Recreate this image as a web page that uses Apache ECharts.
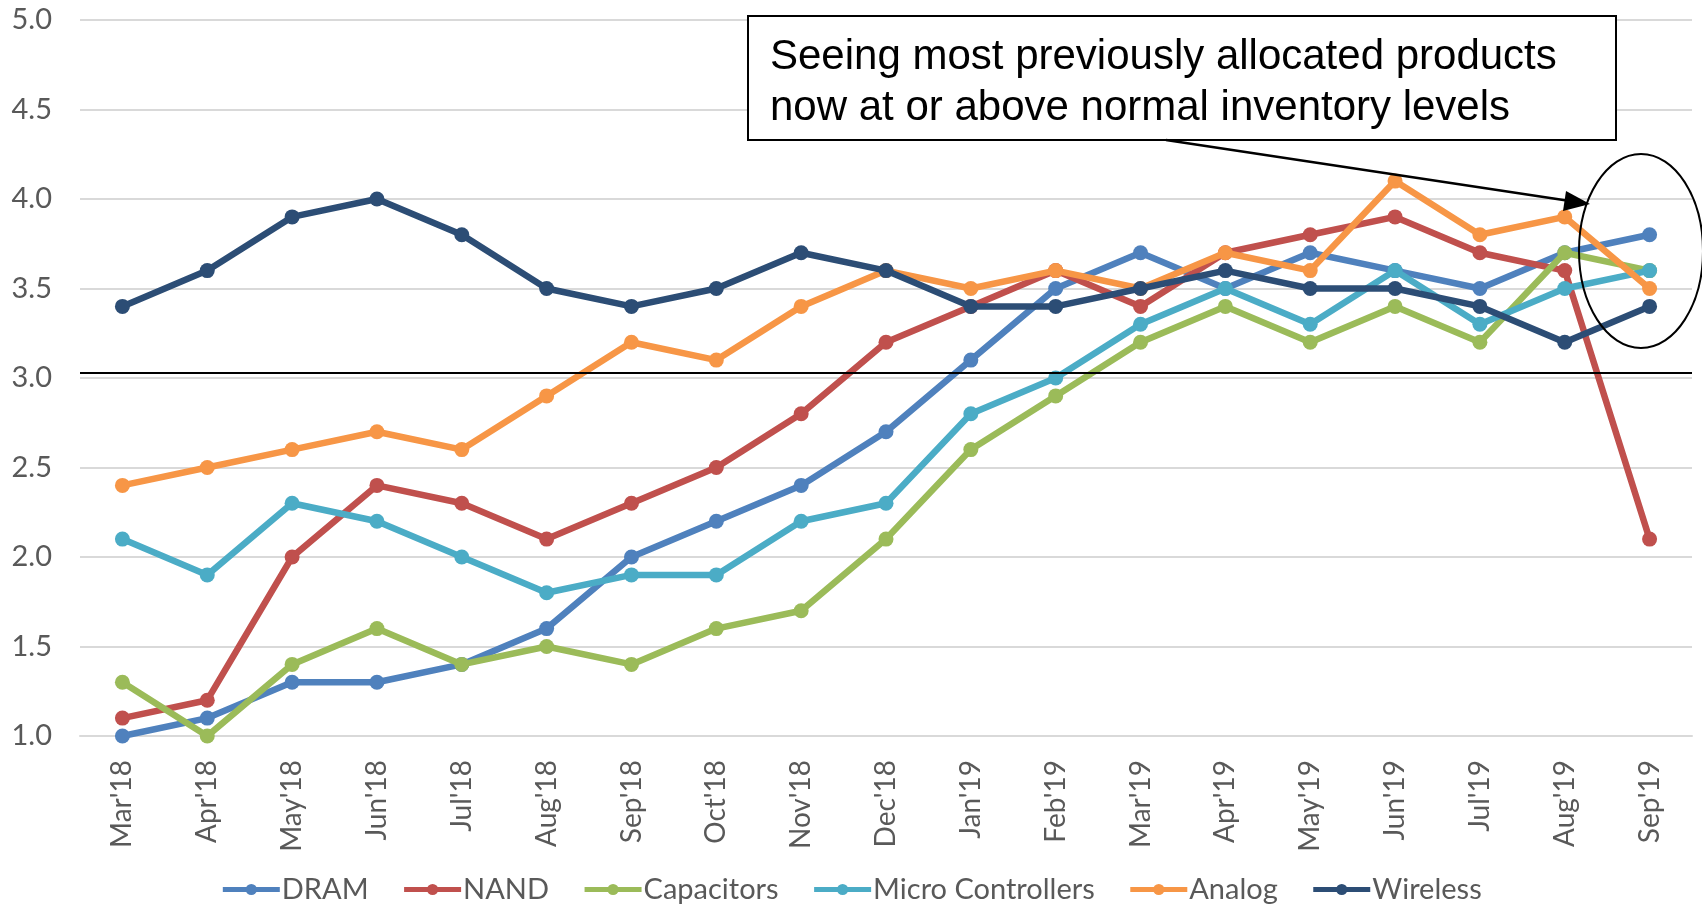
<!DOCTYPE html>
<html>
<head>
<meta charset="utf-8">
<script src="https://cdn.jsdelivr.net/npm/echarts@6/dist/echarts.min.js"></script>
<style>
html,body{margin:0;padding:0;background:#fff;}
#chart{width:1702px;height:911px;}
</style>
</head>
<body>
<div id="chart"></div>
<script>
const categories = ["Mar'18","Apr'18","May'18","Jun'18","Jul'18","Aug'18","Sep'18","Oct'18","Nov'18","Dec'18","Jan'19","Feb'19","Mar'19","Apr'19","May'19","Jun'19","Jul'19","Aug'19","Sep'19"];
const dram = [1.0,1.1,1.3,1.3,1.4,1.6,2.0,2.2,2.4,2.7,3.1,3.5,3.7,3.5,3.7,3.6,3.5,3.7,3.8];
const nand = [1.1,1.2,2.0,2.4,2.3,2.1,2.3,2.5,2.8,3.2,3.4,3.6,3.4,3.7,3.8,3.9,3.7,3.6,2.1];
const capacitors = [1.3,1.0,1.4,1.6,1.4,1.5,1.4,1.6,1.7,2.1,2.6,2.9,3.2,3.4,3.2,3.4,3.2,3.7,3.6];
const microControllers = [2.1,1.9,2.3,2.2,2.0,1.8,1.9,1.9,2.2,2.3,2.8,3.0,3.3,3.5,3.3,3.6,3.3,3.5,3.6];
const analog = [2.4,2.5,2.6,2.7,2.6,2.9,3.2,3.1,3.4,3.6,3.5,3.6,3.5,3.7,3.6,4.1,3.8,3.9,3.5];
const wireless = [3.4,3.6,3.9,4.0,3.8,3.5,3.4,3.5,3.7,3.6,3.4,3.4,3.5,3.6,3.5,3.5,3.4,3.2,3.4];
const thresholdValue = 3.03;
const annotationLines = ["Seeing most previously allocated products", "now at or above normal inventory levels"];

const seriesDefs = [
  {name:'DRAM', data:dram, color:'#4F81BD'},
  {name:'NAND', data:nand, color:'#C0504D'},
  {name:'Capacitors', data:capacitors, color:'#9BBB59'},
  {name:'Micro Controllers', data:microControllers, color:'#4BACC6'},
  {name:'Analog', data:analog, color:'#F79646'},
  {name:'Wireless', data:wireless, color:'#2C4D75'}
];

const FONT = 'Lato';
const chart = echarts.init(document.getElementById('chart'));
const series = seriesDefs.map((s, i) => ({
  name: s.name,
  type: 'line',
  data: s.data,
  symbol: 'circle',
  symbolSize: 15,
  lineStyle: {width: 6.5, color: s.color},
  itemStyle: {color: s.color},
  z: 3 + i,
  animation: false
}));
series[0].markLine = {
  silent: true,
  symbol: ['none','none'],
  label: {show: false},
  lineStyle: {color: '#000', width: 2, type: 'solid'},
  data: [{yAxis: thresholdValue}],
  z: 10
};

chart.setOption({
  animation: false,
  color: seriesDefs.map(s => s.color),
  grid: {left: 80, right: 10, top: 20, bottom: 175, containLabel: false},
  legend: {
    bottom: 2,
    left: 'center',
    itemWidth: 57,
    itemHeight: 14,
    itemGap: 33,
    lineStyle: {width: 5},
    textStyle: {fontFamily: FONT, fontSize: 29, color: '#595959', padding: [0,0,0,-3]},
    data: seriesDefs.map(s => s.name)
  },
  xAxis: {
    type: 'category',
    data: categories,
    boundaryGap: true,
    axisLine: {show: true, lineStyle: {color: '#D9D9D9', width: 2}},
    axisTick: {show: false},
    axisLabel: {rotate: 90, margin: 24, fontFamily: FONT, fontSize: 28, color: '#595959'}
  },
  yAxis: {
    type: 'value',
    min: 1, max: 5, interval: 0.5,
    axisLine: {show: false},
    axisTick: {show: false},
    splitLine: {lineStyle: {color: '#D9D9D9', width: 2}},
    axisLabel: {margin: 28, fontFamily: FONT, fontSize: 29, color: '#595959', formatter: v => v.toFixed(1)}
  },
  series: series,
  graphic: [
    {
      type: 'rect', z: 100,
      shape: {x: 748, y: 16, width: 868, height: 124},
      style: {fill: '#fff', stroke: '#000', lineWidth: 2}
    },
    {
      type: 'text', z: 101,
      style: {x: 770, y: 32, text: annotationLines.join('\n'), font: '42px "Liberation Sans", Arial, sans-serif', fill: '#000', lineHeight: 51}
    },
    {
      type: 'line', z: 100,
      shape: {x1: 1166, y1: 140, x2: 1570, y2: 201},
      style: {stroke: '#000', lineWidth: 2.5}
    },
    {
      type: 'polygon', z: 100,
      shape: {points: [[1590, 204], [1566, 191], [1563, 211]]},
      style: {fill: '#000'}
    },
    {
      type: 'ellipse', z: 100,
      shape: {cx: 1641, cy: 251, rx: 62, ry: 97},
      style: {fill: 'none', stroke: '#000', lineWidth: 2}
    }
  ]
});
</script>
</body>
</html>
